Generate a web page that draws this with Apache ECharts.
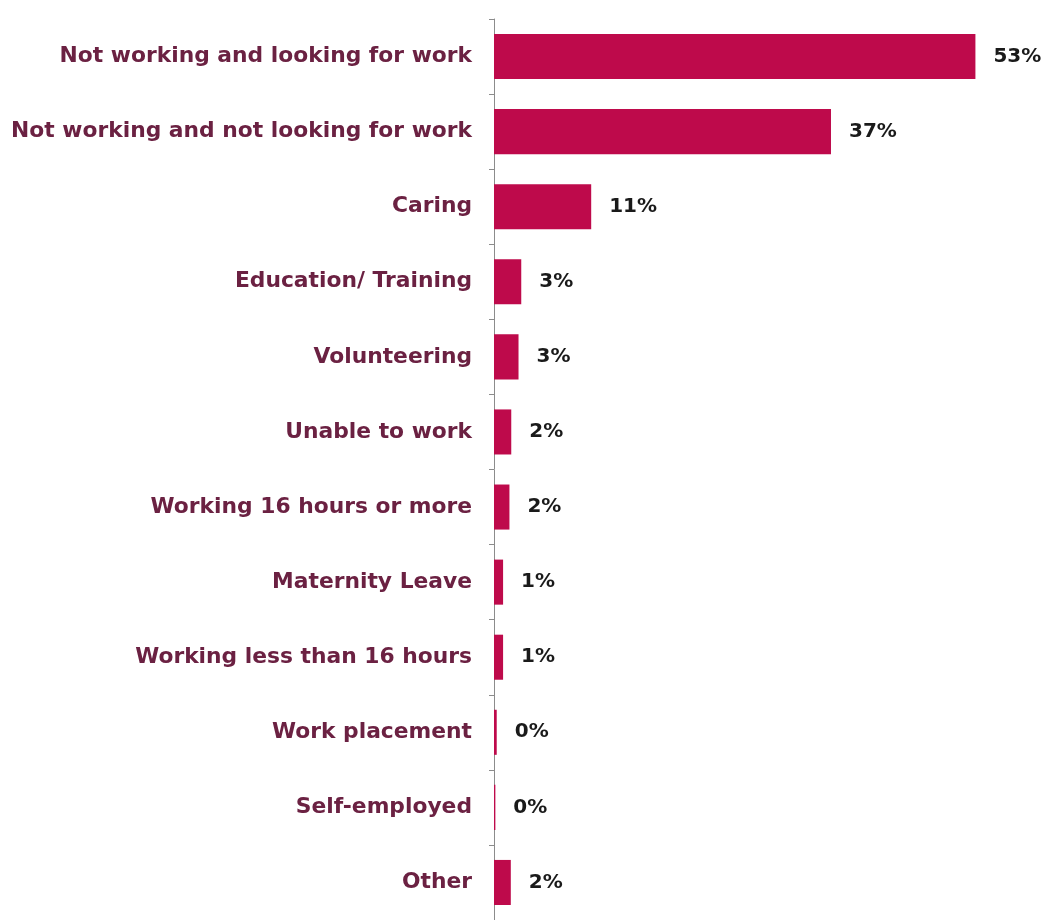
<!DOCTYPE html>
<html>
<head>
<meta charset="utf-8">
<script src="https://cdn.jsdelivr.net/npm/echarts@6/dist/echarts.min.js"></script>
<style>html,body{margin:0;padding:0;background:#fff;}#c{width:1045px;height:920px;}</style>
</head>
<body>
<div id="c"></div>
<script>
const categories = [
  'Not working and looking for work',
  'Not working and not looking for work',
  'Caring',
  'Education/ Training',
  'Volunteering',
  'Unable to work',
  'Working 16 hours or more',
  'Maternity Leave',
  'Working less than 16 hours',
  'Work placement',
  'Self-employed',
  'Other'
];
const values = [53, 37.1, 10.7, 3.0, 2.7, 1.9, 1.7, 1.0, 1.0, 0.3, 0.15, 1.85];
const valueLabels = ['53%', '37%', '11%', '3%', '3%', '2%', '2%', '1%', '1%', '0%', '0%', '2%'];

const chart = echarts.init(document.getElementById('c'));
chart.setOption({
  animation: false,
  grid: { left: 494, right: 6, top: 19, bottom: -5, containLabel: false },
  xAxis: {
    type: 'value', min: 0, max: 60, show: false
  },
  yAxis: {
    type: 'category',
    data: categories,
    inverse: true,
    axisLine: { show: true, lineStyle: { color: '#8c8c8c', width: 1 } },
    axisTick: { show: true, length: 5, lineStyle: { color: '#8c8c8c' } },
    axisLabel: {
      margin: 22,
      color: '#6b2142',
      fontFamily: 'DejaVu Sans, sans-serif',
      fontWeight: 'bold',
      fontSize: 21.8
    }
  },
  series: [{
    type: 'bar',
    data: values,
    barCategoryGap: '40%',
    itemStyle: { color: '#be0a4b' },
    label: {
      show: true,
      position: 'right',
      distance: 18,
      formatter: p => valueLabels[p.dataIndex],
      color: '#1a1a1a',
      fontFamily: 'DejaVu Sans, sans-serif',
      fontWeight: 'bold',
      fontSize: 20
    }
  }]
});
</script>
</body>
</html>
